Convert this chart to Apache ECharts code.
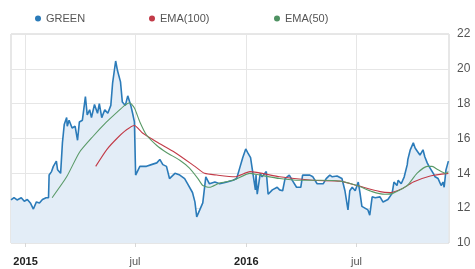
<!DOCTYPE html>
<html><head><meta charset="utf-8">
<script src="https://cdn.jsdelivr.net/npm/echarts@6/dist/echarts.min.js"></script>
<style>html,body{margin:0;padding:0;background:#fff}#c{width:475px;height:269px}</style>
</head><body><div id="c"></div>
<script>
const greenDates = ['2014-12-08','2014-12-13','2014-12-18','2014-12-25','2014-12-30','2015-01-04','2015-01-09','2015-01-14','2015-01-19','2015-01-24','2015-01-29','2015-02-04','2015-02-08','2015-02-09','2015-02-13','2015-02-16','2015-02-21','2015-02-23','2015-02-28','2015-03-03','2015-03-06','2015-03-10','2015-03-11','2015-03-14','2015-03-19','2015-03-24','2015-03-28','2015-03-31','2015-04-05','2015-04-10','2015-04-13','2015-04-17','2015-04-20','2015-04-25','2015-04-30','2015-05-03','2015-05-07','2015-05-12','2015-05-17','2015-05-22','2015-05-25','2015-05-30','2015-06-02','2015-06-07','2015-06-10','2015-06-15','2015-06-19','2015-06-24','2015-06-27','2015-06-30','2015-07-02','2015-07-09','2015-07-20','2015-07-28','2015-08-06','2015-08-11','2015-08-16','2015-08-22','2015-08-27','2015-09-05','2015-09-13','2015-09-21','2015-09-26','2015-10-04','2015-10-08','2015-10-11','2015-10-16','2015-10-21','2015-10-26','2015-11-01','2015-11-10','2015-11-18','2015-11-30','2015-12-10','2015-12-16','2015-12-21','2015-12-26','2015-12-31','2016-01-03','2016-01-08','2016-01-11','2016-01-16','2016-01-17','2016-01-19','2016-01-24','2016-01-27','2016-02-03','2016-02-06','2016-02-13','2016-02-21','2016-02-25','2016-03-01','2016-03-05','2016-03-12','2016-03-17','2016-03-24','2016-03-31','2016-04-03','2016-04-15','2016-04-20','2016-04-27','2016-05-07','2016-05-12','2016-05-18','2016-05-22','2016-05-30','2016-06-07','2016-06-12','2016-06-17','2016-06-20','2016-06-24','2016-06-29','2016-07-04','2016-07-07','2016-07-10','2016-07-15','2016-07-20','2016-07-23','2016-07-27','2016-08-01','2016-08-09','2016-08-14','2016-08-22','2016-08-29','2016-09-01','2016-09-06','2016-09-08','2016-09-13','2016-09-18','2016-09-23','2016-09-24','2016-09-28','2016-10-03','2016-10-06','2016-10-09','2016-10-14','2016-10-19','2016-10-22','2016-10-26','2016-10-29','2016-11-05','2016-11-08','2016-11-13','2016-11-18','2016-11-21','2016-11-23','2016-11-26','2016-11-30'];
const greenValues = [12.47,12.6,12.47,12.6,12.4,12.5,12.3,11.95,12.36,12.3,12.5,12.6,12.6,13.9,14.1,14.4,14.7,14.2,14.0,15.75,16.8,17.2,16.7,17.05,16.6,16.7,15.9,16.95,17.05,18.4,17.35,17.65,17.2,17.95,17.45,18.0,17.2,17.65,17.45,17.9,19.2,20.45,19.9,19.25,18.1,17.9,18.45,17.9,17.45,16.95,13.9,14.4,14.4,14.5,14.6,14.8,14.5,14.4,13.7,14.0,13.9,13.7,13.4,12.9,12.36,11.5,11.9,12.3,13.8,13.4,13.5,13.4,13.5,13.6,13.7,14.3,14.9,15.4,15.2,14.9,14.2,13.05,13.9,12.8,14.0,13.8,14.1,12.8,13.05,13.2,13.05,13.0,13.7,13.9,13.6,13.2,13.2,13.9,13.9,13.8,13.4,13.4,13.7,13.9,13.8,13.85,13.7,13.0,11.9,13.0,13.2,13.0,13.5,12.85,12.1,12.0,11.9,11.6,12.65,12.6,12.65,12.35,12.5,12.85,13.5,13.3,13.6,13.4,13.8,14.5,14.8,15.35,15.75,15.45,15.3,15.05,15.35,14.95,14.6,14.4,14.0,13.8,13.7,13.3,13.5,13.2,14.2,14.7];

const ema100Dates = ['2015-04-27','2015-05-15','2015-06-01','2015-06-17','2015-06-30','2015-07-14','2015-08-06','2015-09-05','2015-10-08','2015-10-24','2015-11-13','2015-12-13','2016-01-07','2016-02-25','2016-04-20','2016-06-04','2016-07-02','2016-08-09','2016-08-26','2016-09-16','2016-10-03','2016-10-31','2016-11-30'];
const ema100Values = [14.4,15.35,16.0,16.5,16.75,16.3,15.8,15.2,14.4,14.0,13.9,13.8,14.1,13.8,13.6,13.55,13.3,12.95,12.9,13.15,13.5,13.85,14.0];

const ema50Dates = ['2015-02-14','2015-03-10','2015-03-31','2015-04-22','2015-05-15','2015-06-01','2015-06-14','2015-06-22','2015-06-30','2015-07-09','2015-07-20','2015-08-06','2015-08-22','2015-09-13','2015-09-29','2015-10-13','2015-10-21','2015-11-01','2015-11-18','2015-12-10','2016-01-07','2016-01-23','2016-02-25','2016-03-29','2016-05-02','2016-06-04','2016-07-02','2016-07-27','2016-08-17','2016-08-30','2016-09-23','2016-10-09','2016-10-26','2016-11-03','2016-11-13','2016-11-25','2016-11-30'];
const ema50Values = [12.6,13.8,15.2,16.1,16.95,17.5,17.9,18.05,17.75,16.95,16.2,15.6,15.2,14.75,14.3,13.7,13.3,13.2,13.45,13.6,14.0,13.9,13.7,13.6,13.6,13.55,13.3,12.95,12.8,12.85,13.3,14.0,14.4,14.4,14.2,14.0,14.1];

const xTickDates = ['2015-01-01','2015-07-01','2016-01-01','2016-07-01'];
const xTickLabels = ['2015','jul','2016','jul'];
const yTicks = [10,12,14,16,18,20,22];

function ts(s){const p=s.split('-').map(Number);return Date.UTC(p[0],p[1]-1,p[2]);}
const tickTs = xTickDates.map(ts);
const pairs = (d,v)=>d.map((x,i)=>[ts(x),v[i]]);

const chart = echarts.init(document.getElementById('c'));
const font = '"Liberation Sans", Arial, sans-serif';
chart.setOption({
  animation:false,
  backgroundColor:'#fff',
  textStyle:{fontFamily:font},
  legend:[
    {data:['GREEN'],left:30,top:8,icon:'circle',itemWidth:6,itemHeight:6,textStyle:{fontSize:11,color:'#555',fontFamily:font}},
    {data:['EMA(100)'],left:144,top:8,icon:'circle',itemWidth:6,itemHeight:6,textStyle:{fontSize:11,color:'#555',fontFamily:font}},
    {data:['EMA(50)'],left:269,top:8,icon:'circle',itemWidth:6,itemHeight:6,textStyle:{fontSize:11,color:'#555',fontFamily:font}}
  ],
  grid:{left:11,right:26,top:34,bottom:26,show:true,borderColor:'#cfcfcf',borderWidth:1,backgroundColor:'#fff'},
  xAxis:{
    type:'value', min:ts('2014-12-08'), max:ts('2016-12-01'),
    axisLine:{show:false},
    axisTick:{show:true,length:4,lineStyle:{color:'#d8d8d8'},customValues:tickTs},
    splitLine:{show:true,lineStyle:{color:'#e6e6e6'}},
    axisLabel:{customValues:tickTs,margin:13,fontSize:11,color:'#555',fontFamily:font,
      formatter:function(v){const i=tickTs.indexOf(v);const t=i>=0?xTickLabels[i]:'';return /^\d{4}$/.test(t)?'{y|'+t+'}':t;},
      rich:{y:{fontWeight:'bold',color:'#222',fontSize:11,fontFamily:font}}}
  },
  yAxis:{
    type:'value', position:'right', min:yTicks[0], max:yTicks[yTicks.length-1], interval:2,
    axisLine:{show:false}, axisTick:{show:false},
    splitLine:{lineStyle:{color:'#e6e6e6'}},
    axisLabel:{margin:8,fontSize:12,color:'#555',fontFamily:font}
  },
  series:[
    {name:'GREEN',type:'line',data:pairs(greenDates,greenValues),showSymbol:false,symbol:'circle',
      itemStyle:{color:'#2b7bb9'},lineStyle:{width:1.6,color:'#2b7bb9'},
      areaStyle:{color:'#e3edf7',opacity:1,origin:'start'},z:2},
    {name:'EMA(100)',type:'line',data:pairs(ema100Dates,ema100Values),showSymbol:false,symbol:'circle',smooth:0.2,
      itemStyle:{color:'#c23b48'},lineStyle:{width:1.1,color:'#c23b48'},z:3},
    {name:'EMA(50)',type:'line',data:pairs(ema50Dates,ema50Values),showSymbol:false,symbol:'circle',smooth:0.2,
      itemStyle:{color:'#4f9262'},lineStyle:{width:1.1,color:'#5a9a68'},z:4}
  ]
});
</script></body></html>
